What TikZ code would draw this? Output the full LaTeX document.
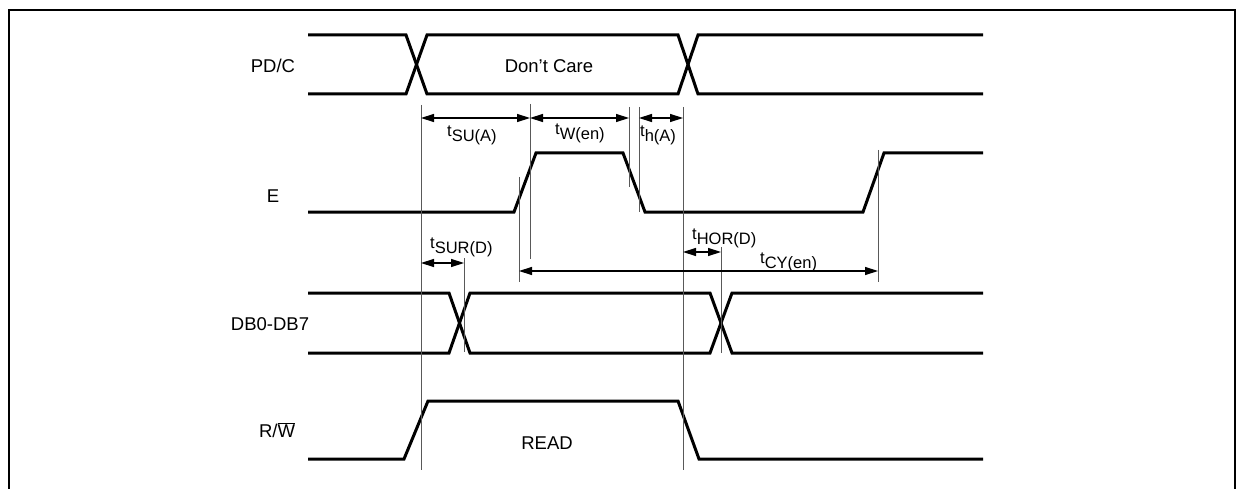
\documentclass[tikz,border=0pt]{standalone}
\usepackage{fontspec}
\setmainfont{Liberation Sans}
\usetikzlibrary{arrows.meta}

\newcommand{\tname}[1]{t\raisebox{-5pt}{#1}}

\begin{document}
\begin{tikzpicture}[x=1pt, y=-1pt, >={Triangle[length=13pt,width=8pt]},
    signal/.style={line width=3pt, line join=miter},
    guide/.style={line width=1pt, black!65},
    dim/.style={line width=1.4pt, <->},
    sigtext/.style={anchor=base, inner sep=0pt, font=\fontsize{18.5}{20}\selectfont},
    timetext/.style={anchor=base west, inner sep=0pt, font=\fontsize{16.5}{18}\selectfont}
]
    \useasboundingbox (0,0) rectangle (1236,489);
    \draw [line width=2.5pt] (9,489) -- (9,10) -- (1235,10) -- (1235,489);

    % Place nodes
    \node [sigtext] (pdc) at (273,73) {PD/C};
    \node [sigtext] (en) at (273,202) {E};
    \node [sigtext] (db) at (270,330) {DB0-DB7};
    \node [sigtext] (rw) at (277,437) {R/$\overline{\mbox{W}}$};
    \node [sigtext] (dontcare) at (549,73) {Don't Care};
    \node [sigtext] (read) at (547,449) {READ};
    \node [timetext] (tsu) at (447,137) {\tname{SU(A)}};
    \node [timetext] (tw) at (555,135) {\tname{W(en)}};
    \node [timetext] (th) at (640,137) {\tname{h(A)}};
    \node [timetext] (tsur) at (430,248) {\tname{SUR(D)}};
    \node [timetext] (thor) at (692,239) {\tname{HOR(D)}};
    \node [timetext] (tcy) at (760,263) {\tname{CY(en)}};

    % Waveforms
    \draw [signal] (308,35) -- (406,35) -- (427,94) -- (678,94) -- (698,35) -- (983,35);
    \draw [signal] (308,94) -- (406,94) -- (427,35) -- (678,35) -- (698,94) -- (983,94);
    \draw [signal] (308,212) -- (514,212) -- (536,153) -- (623,153) -- (645,212)
        -- (863,212) -- (884,153) -- (983,153);
    \draw [signal] (308,293) -- (449,293) -- (470,353) -- (710,353) -- (732,293) -- (983,293);
    \draw [signal] (308,353) -- (449,353) -- (470,293) -- (710,293) -- (732,353) -- (983,353);
    \draw [signal] (308,459) -- (404,459) -- (428,401) -- (678,401) -- (699,459) -- (983,459);

    % Timing marks
    \coordinate (a1) at (421,118);
    \coordinate (a2) at (530,118);
    \coordinate (a3) at (629,118);
    \coordinate (a4) at (639,118);
    \coordinate (a5) at (683,118);
    \coordinate (b1) at (421,263);
    \coordinate (b2) at (464,263);
    \coordinate (c1) at (683,252);
    \coordinate (c2) at (721,252);
    \coordinate (d1) at (519,271);
    \coordinate (d2) at (878,271);

    \draw [guide] (421,105) -- (421,470);
    \draw [guide] (530,104) -- (530,259);
    \draw [guide] (519,177) -- (519,282);
    \draw [guide] (629,107) -- (629,187);
    \draw [guide] (639,107) -- (639,212);
    \draw [guide] (683,107) -- (683,470);
    \draw [guide] (464,258) -- (464,352);
    \draw [guide] (721,247) -- (721,353);
    \draw [guide] (878,150) -- (878,282);

    % Draw edges
    \draw [dim] (a1) -- (a2);
    \draw [dim] (a2) -- (a3);
    \draw [dim] (a4) -- (a5);
    \draw [dim] (b1) -- (b2);
    \draw [dim] (c1) -- (c2);
    \draw [dim] (d1) -- (d2);
\end{tikzpicture}
\end{document}
